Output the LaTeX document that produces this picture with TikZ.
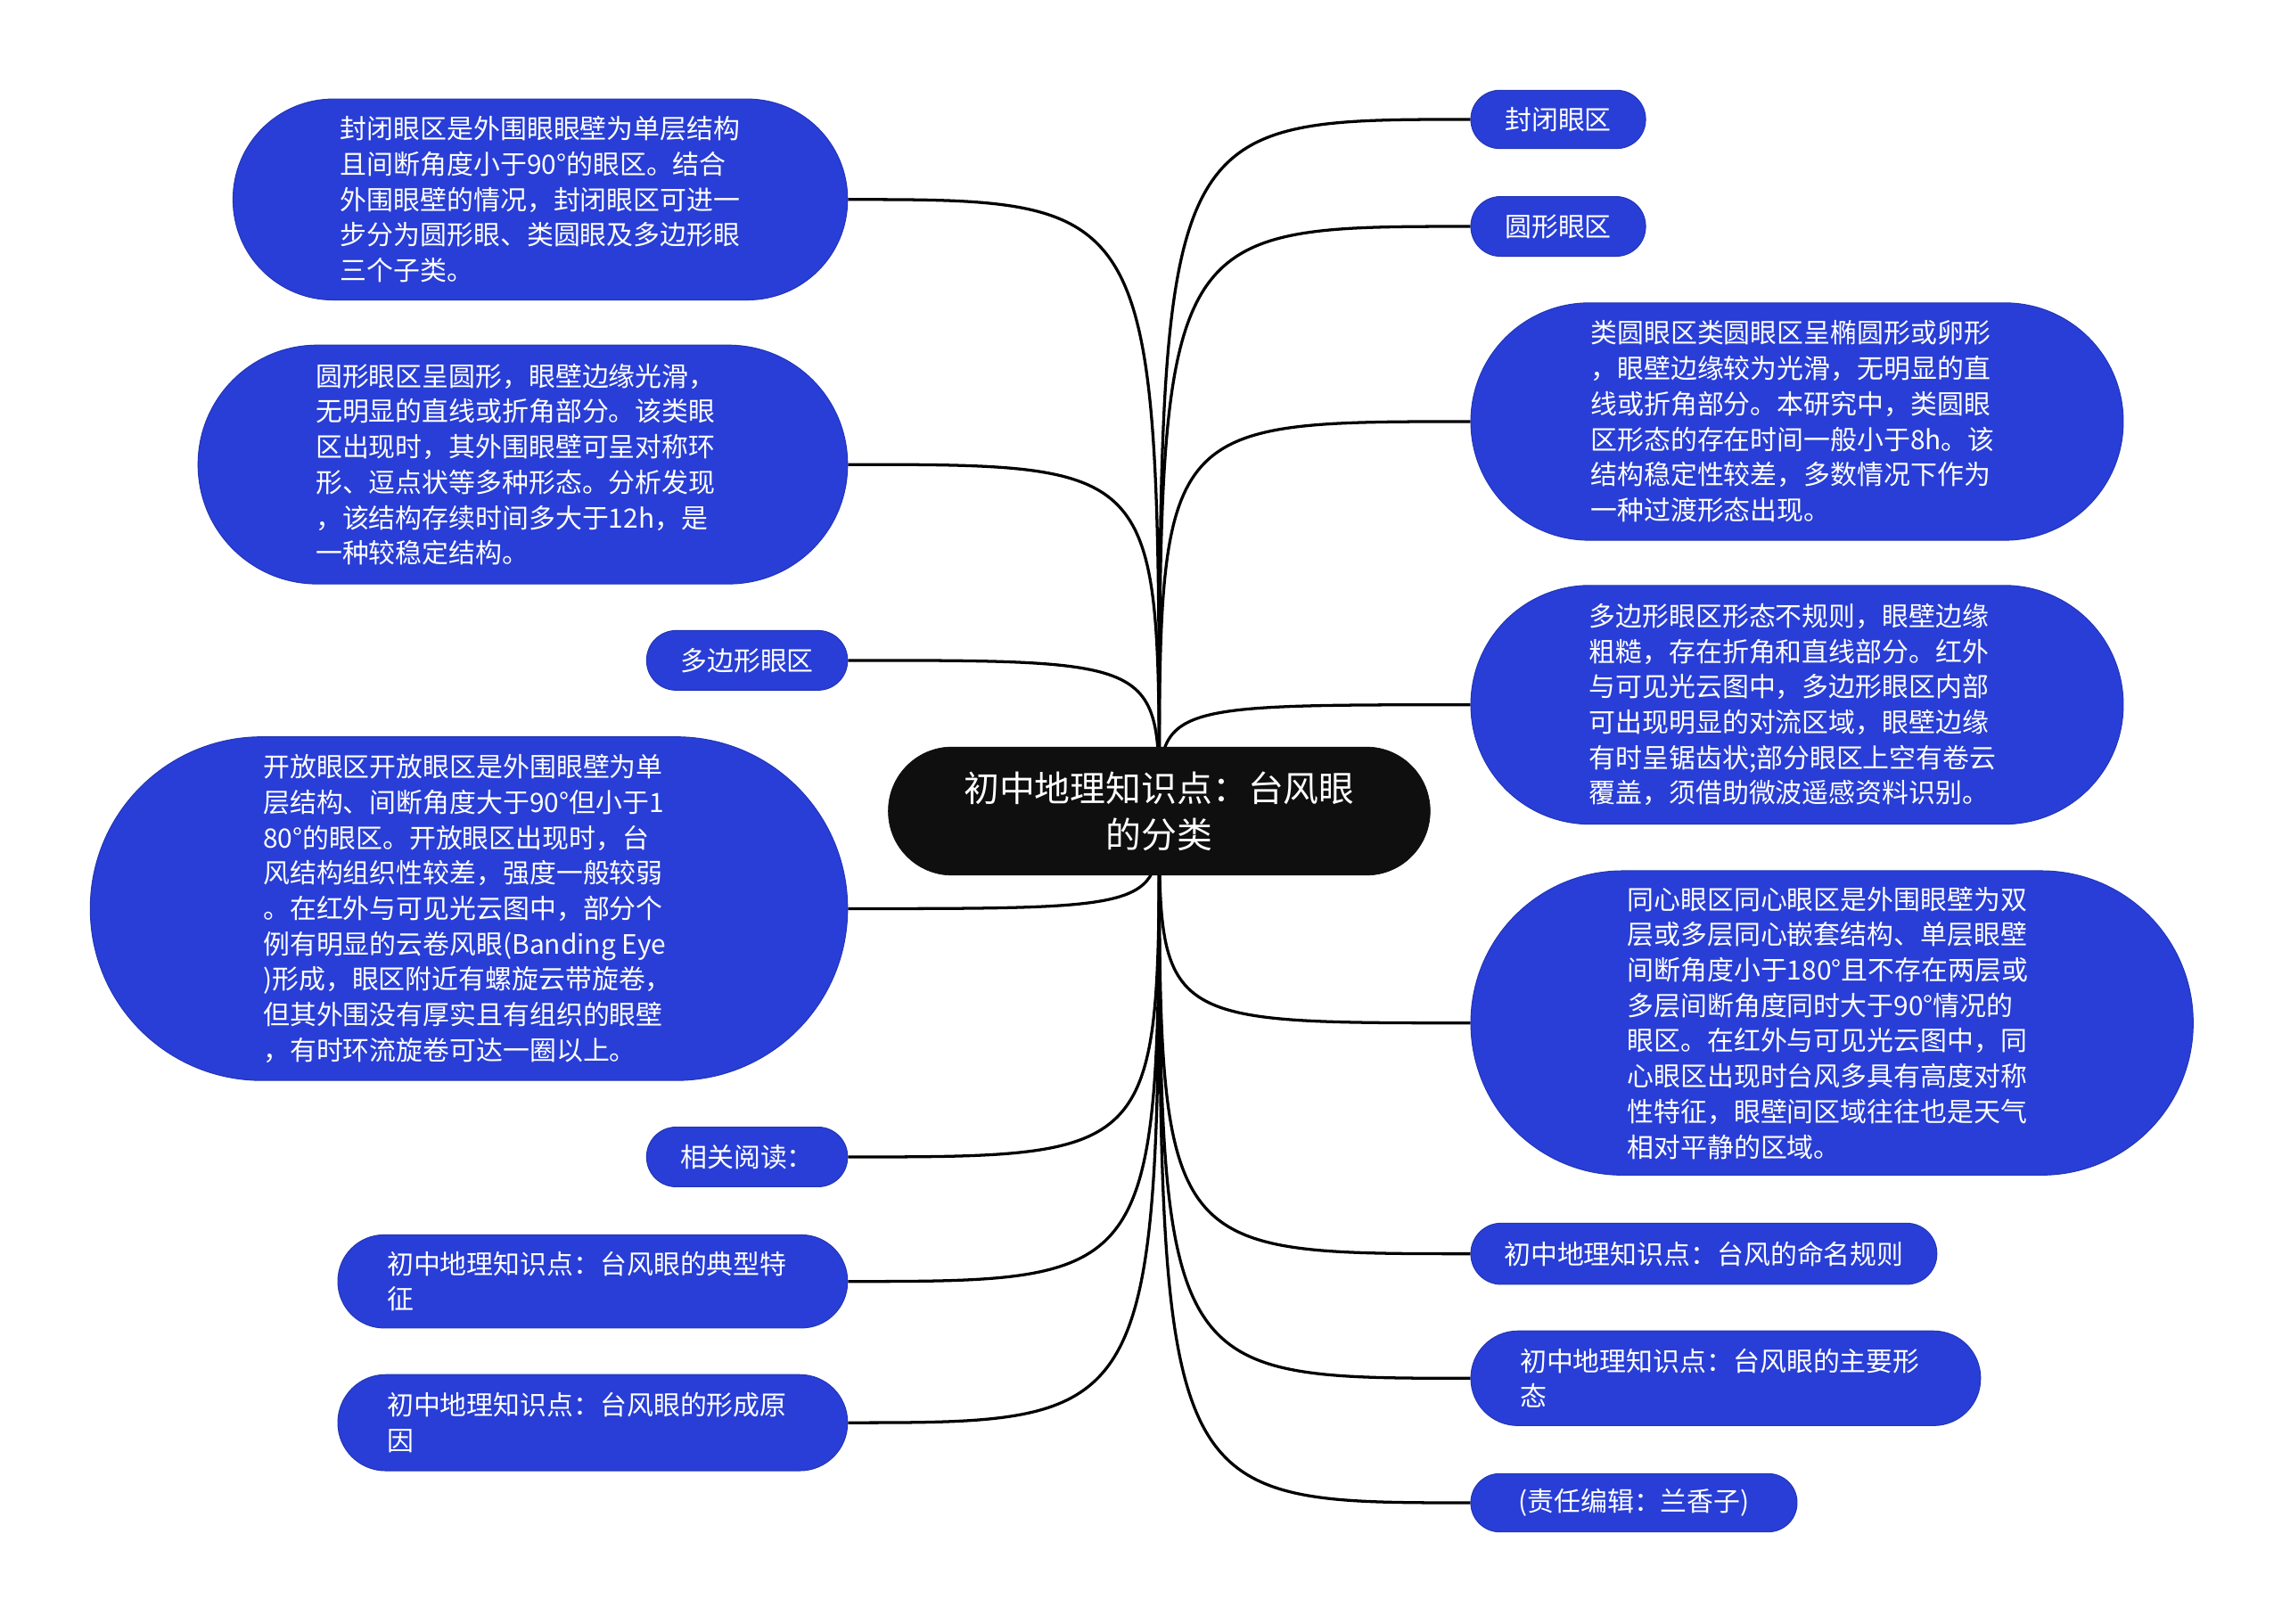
\documentclass[tikz,border=0pt]{standalone}
\usepackage{fontspec}
\newfontfamily\cjk{Noto Sans CJK SC}
\pgfdeclarelayer{paper}
\pgfdeclarelayer{links}
\pgfsetlayers{paper,links,main}
\definecolor{nodeblue}{RGB}{40,62,214}
\definecolor{rootblack}{RGB}{15,15,15}
\tikzset{
  pill/.style n args={2}{rectangle, rounded corners=#2/2-0.2pt, minimum width=#1, minimum height=#2, inner sep=0pt},
  leaf/.style={fill=nodeblue, draw=nodeblue!85!black, line width=0.6pt, text=white, align=left,
    font=\cjk\fontsize{18.3}{24.3}\selectfont},
  rootbox/.style={fill=rootblack, draw=rootblack, text=white, align=center,
    font=\cjk\fontsize{24.4}{32}\selectfont},
  link/.style={draw=black, line width=2pt}
}
\begin{document}
\begin{tikzpicture}[x=1pt,y=-1pt]
\begin{pgfonlayer}{paper}
\fill[white] (0,0) rectangle (1567,1114.65);
\end{pgfonlayer}
\useasboundingbox (0,0) rectangle (1567,1114.65);

\node[rootbox, pill={372pt}{88pt}] (c) at (796,557) {初中地理知识点：台风眼\\的分类};

% left side
\node[leaf, pill={422pt}{138pt}] (l1) at (371,137) {封闭眼区是外围眼眼壁为单层结构\\且间断角度小于90°的眼区。结合\\外围眼壁的情况，封闭眼区可进一\\步分为圆形眼、类圆眼及多边形眼\\三个子类。\kern8pt};
\node[leaf, pill={446pt}{164pt}] (l2) at (359,319) {圆形眼区呈圆形，眼壁边缘光滑，\\无明显的直线或折角部分。该类眼\kern10pt\\区出现时，其外围眼壁可呈对称环\\形、逗点状等多种形态。分析发现\\，该结构存续时间多大于12h，是\\一种较稳定结构。};
\node[leaf, pill={138pt}{41pt}] (l3) at (513,453.5) {多边形眼区};
\node[leaf, pill={520pt}{236pt}] (l4) at (322,624) {开放眼区开放眼区是外围眼壁为单\\层结构、间断角度大于90°但小于1\\80°的眼区。开放眼区出现时，台\\风结构组织性较差，强度一般较弱\\。在红外与可见光云图中，部分个\\例有明显的云卷风眼(Banding Eye\kern6pt\\)形成，眼区附近有螺旋云带旋卷，\\但其外围没有厚实且有组织的眼壁\\，有时环流旋卷可达一圈以上。};
\node[leaf, pill={138pt}{41pt}] (l5) at (513,794.5) {相关阅读：};
\node[leaf, pill={350pt}{64pt}] (l6) at (407,880) {初中地理知识点：台风眼的典型特\kern8pt\\征};
\node[leaf, pill={350pt}{66pt}] (l7) at (407,977) {初中地理知识点：台风眼的形成原\kern8pt\\因};

% right side
\node[leaf, pill={120pt}{40pt}] (r1) at (1070,82) {封闭眼区};
\node[leaf, pill={120pt}{41pt}] (r2) at (1070,155.5) {圆形眼区};
\node[leaf, pill={448pt}{163pt}] (r3) at (1234,289.5) {类圆眼区类圆眼区呈椭圆形或卵形\\，眼壁边缘较为光滑，无明显的直\\线或折角部分。本研究中，类圆眼\\区形态的存在时间一般小于8h。该\kern6pt\\结构稳定性较差，多数情况下作为\\一种过渡形态出现。};
\node[leaf, pill={448pt}{164pt}] (r4) at (1234,484) {多边形眼区形态不规则，眼壁边缘\\粗糙，存在折角和直线部分。红外\\与可见光云图中，多边形眼区内部\\可出现明显的对流区域，眼壁边缘\\有时呈锯齿状;部分眼区上空有卷云\kern6pt\\覆盖，须借助微波遥感资料识别。};
\node[leaf, pill={496pt}{209pt}] (r5) at (1258,702.5) {同心眼区同心眼区是外围眼壁为双\\层或多层同心嵌套结构、单层眼壁\\间断角度小于180°且不存在两层或\kern6pt\\多层间断角度同时大于90°情况的\\眼区。在红外与可见光云图中，同\\心眼区出现时台风多具有高度对称\\性特征，眼壁间区域往往也是天气\\相对平静的区域。};
\node[leaf, pill={320pt}{42pt}] (r6) at (1170,861) {初中地理知识点：台风的命名规则};
\node[leaf, pill={350pt}{65pt}] (r7) at (1185,946.5) {初中地理知识点：台风眼的主要形\kern8pt\\态};
\node[leaf, pill={224pt}{40pt}] (r8) at (1122,1032) {(责任编辑：兰香子)};

\begin{pgfonlayer}{links}
\foreach \n in {l1,l2,l3,l4,l5,l6,l7}
  \draw[link] (c.center) .. controls (c.center |- \n.east) .. (\n.east);
\foreach \n in {r1,r2,r3,r4,r5,r6,r7,r8}
  \draw[link] (c.center) .. controls (c.center |- \n.west) .. (\n.west);
\end{pgfonlayer}
\end{tikzpicture}
\end{document}
